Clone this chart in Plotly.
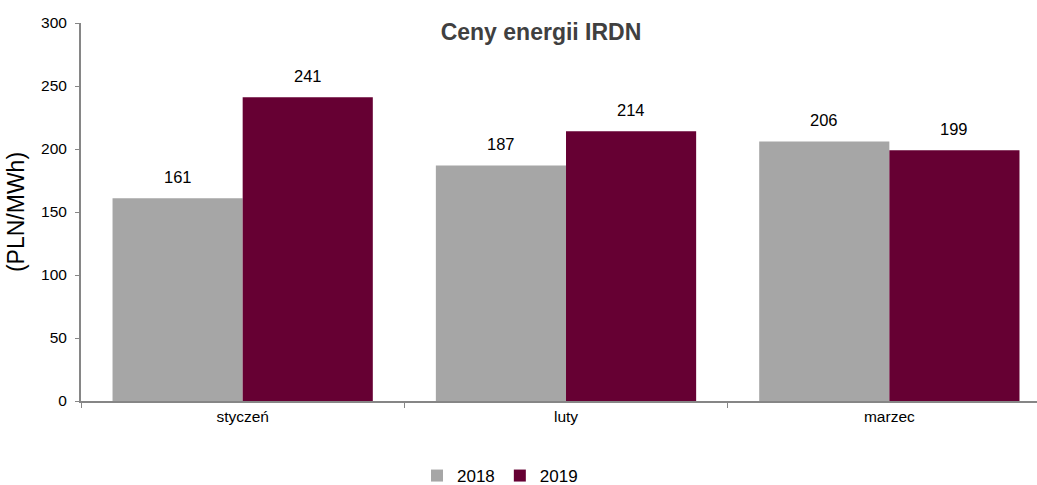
import plotly.graph_objects as go

categories = ["styczeń", "luty", "marzec"]
series_names = ["2018", "2019"]
values_2018 = [161, 187, 206]
values_2019 = [241, 214, 199]
colors = ["#A6A6A6", "#660033"]

fig = go.Figure()
for name, vals, col in zip(series_names, [values_2018, values_2019], colors):
    fig.add_trace(go.Bar(x=categories, y=vals, name=name, marker=dict(color=col, line=dict(width=0))))

bar_w = (1 - 0.195) / 2
for si, vals in enumerate([values_2018, values_2019]):
    off = (si - 0.5) * bar_w
    for ci, v in enumerate(vals):
        fig.add_annotation(x=ci + off, y=v, text=str(v), showarrow=False,
                           yanchor="middle", yshift=21,
                           font=dict(family="Liberation Sans, Arial", size=16.5, color="#000"))

fig.update_layout(
    width=1037, height=485,
    margin=dict(l=81, r=0, t=23, b=84),
    paper_bgcolor="white", plot_bgcolor="white",
    barmode="group", bargap=0.195, bargroupgap=0,
    font=dict(family="Liberation Sans, Arial", color="#000"),
    title=dict(text="<b>Ceny energii IRDN</b>", xref="container", x=541/1037, xanchor="center",
               yref="container", y=1 - 32/485, yanchor="middle",
               font=dict(size=23, color="#404040")),
    showlegend=True,
    legend=dict(orientation="h", xref="container", x=500/1037, xanchor="center",
                yref="container", y=1 - 476/485, yanchor="middle",
                font=dict(size=17), itemwidth=30, traceorder="normal"),
)
fig.update_xaxes(type="category", range=[-0.5, 2.5 - 14/323], tickson="boundaries",
                 ticks="outside", ticklen=5, tickcolor="#868686",
                 showline=True, linecolor="#868686", linewidth=2,
                 tickfont=dict(size=15.5), showgrid=False, automargin=False)
fig.update_yaxes(range=[0, 300], tickvals=[0, 50, 100, 150, 200, 250, 300],
                 ticks="outside", ticklen=4, tickcolor="#868686",
                 showline=True, linecolor="#868686", linewidth=2, ticklabelstandoff=5,
                 tickfont=dict(size=15.5), showgrid=False, zeroline=False, automargin=False,
                 title=dict(text="(PLN/MWh)", font=dict(size=23), standoff=10))

fig.write_html("out.html", config={"displayModeBar": False},
               post_script="document.body.style.margin='0';document.body.style.padding='0';")
